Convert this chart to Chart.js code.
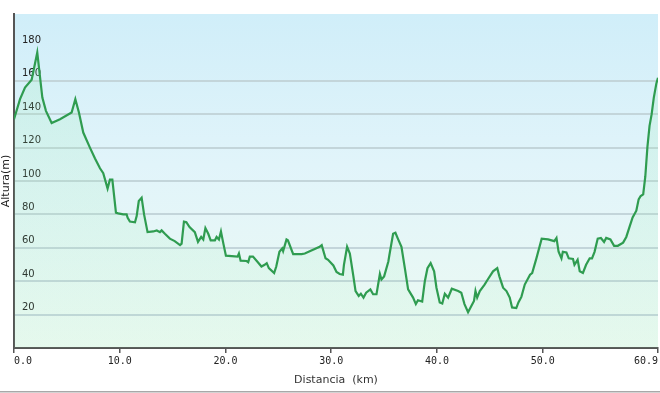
<!DOCTYPE html>
<html>
<head>
<meta charset="utf-8">
<script src="https://cdn.jsdelivr.net/npm/chart.js@4.4.1/dist/chart.umd.min.js"></script>
<style>
html,body{margin:0;padding:0;background:#ffffff;}
#wrap{width:660px;height:393px;position:relative;}
</style>
</head>
<body>
<div id="wrap"><canvas id="c" width="660" height="393"></canvas></div>
<script>
const distanceKm = [0.0,0.57,1.04,1.67,2.2,2.68,3.02,3.56,4.35,5.45,5.8,6.14,6.55,7.18,7.66,8.13,8.44,8.85,9.07,9.3,9.64,9.86,10.33,10.65,10.75,10.96,11.44,11.6,11.8,12.07,12.3,12.63,13.17,13.5,13.8,13.96,14.27,14.74,15.2,15.7,15.85,16.07,16.3,16.6,17.1,17.4,17.7,17.9,18.1,18.37,18.6,19.0,19.16,19.38,19.57,19.8,20.04,21.14,21.27,21.43,22.0,22.15,22.3,22.6,23.0,23.4,23.7,23.9,24.1,24.6,24.8,25.1,25.36,25.45,25.77,25.9,26.4,27.2,27.5,28.9,29.1,29.46,29.7,30.2,30.5,30.8,31.1,31.2,31.5,31.76,32.07,32.3,32.6,32.8,33.05,33.3,33.7,33.96,34.28,34.6,34.75,35.0,35.4,35.5,35.85,36.07,36.3,36.64,36.96,37.27,37.74,38.0,38.2,38.6,38.85,39.1,39.4,39.73,39.95,40.26,40.5,40.74,41.05,41.4,42.0,42.3,42.6,42.94,43.26,43.5,43.64,43.8,44.05,44.5,44.8,45.3,45.7,45.9,46.25,46.57,46.88,47.1,47.5,47.7,47.98,48.3,48.8,49.0,49.4,49.9,50.5,51.1,51.3,51.5,51.77,51.9,52.24,52.46,52.86,53.0,53.3,53.5,53.8,54.1,54.44,54.66,54.9,55.2,55.5,55.8,56.0,56.4,56.75,57.1,57.6,57.9,58.2,58.5,58.85,59.07,59.26,59.5,59.7,59.9,60.1,60.3,60.5,60.75,60.9];
const altitudeM = [137,149,156,160.6,177,150,142,134.7,137,141,149,141,129,120,113.5,107.6,104.7,95.5,100.8,100.8,81,80.6,80,80,78,75.7,75.3,79,88,90,80,69.4,69.8,70.4,69.4,70.4,68.4,65.5,64,61.6,62.5,75.7,75.3,72.4,69.4,63.5,66.5,65,71.8,68.4,64.5,64.5,66.5,65,69.8,62.5,55.3,54.7,56.6,52.3,52.1,51.4,54.7,54.7,51.8,48.8,49.8,50.8,47.8,44.9,48.8,57.6,59.6,58,65,64.5,56.2,56.2,56.6,60.6,61.6,53.7,52.8,49.4,45.5,44.3,43.9,49.8,60.6,56.6,43.9,34.1,31.2,32.5,30.2,33.1,35.1,32.2,32.2,44.3,41,42.9,51.8,55.7,68.4,69,65.5,60.6,47.8,35.1,30.2,26.3,28.6,27.8,40,47.8,50.8,45.9,36.1,27.3,26.7,32.5,30.2,35.5,34.1,33.1,26.3,21.4,25.3,28.2,34.1,30.2,34.1,38,41,45.9,47.8,42.9,36.1,34.1,30.2,24.3,23.9,27.3,30.6,38,43.9,44.9,53.7,65.5,65,64,65.9,57.6,53.7,57.6,57.2,53.7,53.3,49.8,52.8,45.9,44.9,49.8,53.7,53.7,57.6,65.5,65.9,63.5,65.9,65,61.2,61.2,63.1,66.5,72.4,78.2,82.2,89,91,92,102.7,120.4,133,140,149.8,158.6,161.8];
const xTickValues = [0, 10, 20, 30, 40, 50, 60.9];
const yTickValues = [0, 20, 40, 60, 80, 100, 120, 140, 160, 180, 200];
const yLabelled = [20, 40, 60, 80, 100, 120, 140, 160, 180];
const yGridDrawn = [20, 40, 60, 80, 100, 120, 140, 160];
const xAxisTitle = 'Distancia  (km)';
const yAxisTitle = 'Altura(m)';

const points = distanceKm.map((d, i) => ({x: d, y: altitudeM[i]}));

const bgPlugin = {
  id: 'bgPlugin',
  beforeDraw(chart) {
    const {ctx, chartArea: a} = chart;
    ctx.save();
    ctx.fillStyle = '#ffffff';
    ctx.fillRect(0, 0, chart.width, chart.height);
    const g = ctx.createLinearGradient(0, a.top, 0, a.bottom);
    g.addColorStop(0, '#d0eef9');
    g.addColorStop(0.45, '#e1f4fa');
    g.addColorStop(1, '#ecfaf2');
    ctx.fillStyle = g;
    ctx.fillRect(a.left, a.top, a.right - a.left, a.bottom - a.top);
    ctx.restore();
  },
  afterDraw(chart) {
    const {ctx} = chart;
    ctx.save();
    ctx.fillStyle = '#a8a8a8';
    ctx.fillRect(0, 391, chart.width, 1.5);
    ctx.restore();
  }
};

new Chart(document.getElementById('c'), {
  type: 'line',
  data: {
    datasets: [{
      data: points,
      borderColor: '#2f9c50',
      borderWidth: 2.2,
      pointRadius: 0,
      tension: 0,
      fill: 'origin',
      backgroundColor: (ctx) => {
        const chart = ctx.chart;
        const a = chart.chartArea;
        if (!a) return 'rgba(150,235,170,0.15)';
        const g = chart.ctx.createLinearGradient(0, a.top, 0, a.bottom);
        g.addColorStop(0, 'rgba(150,235,175,0.22)');
        g.addColorStop(1, 'rgba(150,235,175,0.08)');
        return g;
      }
    }]
  },
  options: {
    responsive: false,
    animation: false,
    devicePixelRatio: 1,
    layout: {padding: {top: 8, right: 2, left: 0, bottom: 0}},
    plugins: {legend: {display: false}, tooltip: {enabled: false}},
    scales: {
      x: {
        type: 'linear',
        min: 0,
        max: 60.9,
        afterFit(scale) { scale.height = 45; },
        afterBuildTicks(scale) { scale.ticks = xTickValues.map(v => ({value: v})); },
        border: {display: true, color: '#555555', width: 2},
        grid: {drawOnChartArea: false, drawTicks: true, tickLength: 5, color: '#555555', lineWidth: 1.5},
        ticks: {
          align: 'inner',
          autoSkip: false,
          maxRotation: 0,
          padding: 2,
          color: '#222222',
          font: {family: '"DejaVu Sans Mono", monospace', size: 10},
          callback: (v) => Number(v).toFixed(1)
        },
        title: {
          display: true,
          text: xAxisTitle,
          color: '#333333',
          font: {family: '"DejaVu Sans", sans-serif', size: 11},
          padding: {top: 0, bottom: 6}
        }
      },
      y: {
        type: 'linear',
        min: 0,
        max: 200,
        afterFit(scale) { scale.width = 14; },
        afterBuildTicks(scale) { scale.ticks = yTickValues.map(v => ({value: v})); },
        border: {display: true, color: '#555555', width: 2},
        grid: {
          drawTicks: false,
          lineWidth: 2,
          color: (c) => (c.tick && yGridDrawn.includes(c.tick.value)) ? '#c3d5da' : 'rgba(0,0,0,0)'
        },
        ticks: {
          mirror: true,
          padding: 8,
          labelOffset: -7,
          color: '#222222',
          font: {family: '"DejaVu Sans", sans-serif', size: 10},
          callback: (v) => yLabelled.includes(v) ? String(v) : ''
        },
        title: {
          display: true,
          text: yAxisTitle,
          color: '#222222',
          font: {family: '"DejaVu Sans", sans-serif', size: 11},
          padding: {top: 0, bottom: 0}
        }
      }
    }
  },
  plugins: [bgPlugin]
});
</script>
</body>
</html>
